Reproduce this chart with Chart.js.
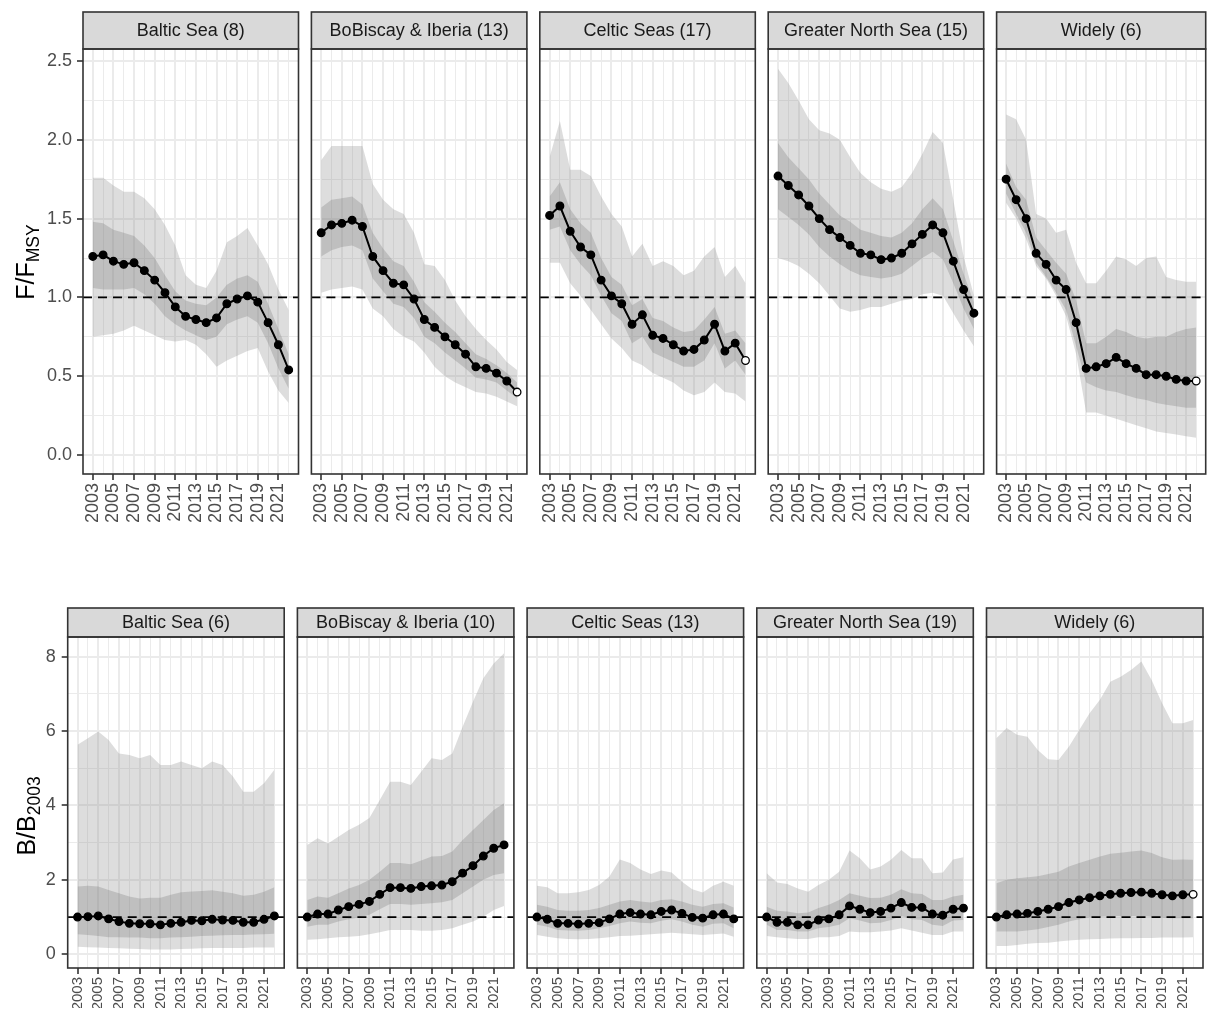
<!DOCTYPE html>
<html>
<head>
<meta charset="utf-8">
<title>F/FMSY and B/B2003 by ecoregion</title>
<script src="https://cdn.jsdelivr.net/npm/chart.js@4.4.1/dist/chart.umd.min.js"></script>
<style>
  html, body { margin: 0; padding: 0; background: #ffffff; }
  #wrap { position: relative; width: 1211px; height: 1010px; overflow: hidden; }
  #wrap canvas { position: absolute; left: 0; top: 0; }
</style>
</head>
<body>
<div id="wrap"></div>
<script>
// ---------------- data ----------------
const YEARS = [2003,2004,2005,2006,2007,2008,2009,2010,2011,2012,2013,2014,2015,2016,2017,2018,2019,2020,2021,2022];
const X_TICK_LABELS = [2003,2005,2007,2009,2011,2013,2015,2017,2019,2021];
const F_TICKS = [0, 0.5, 1, 1.5, 2, 2.5];
const F_MINOR = [0.25, 0.75, 1.25, 1.75, 2.25];
const B_TICKS = [0, 2, 4, 6, 8];
const B_MINOR = [1, 3, 5, 7];
const REF = 1;

const F_TITLES = ['Baltic Sea (8)', 'BoBiscay & Iberia (13)', 'Celtic Seas (17)', 'Greater North Sea (15)', 'Widely (6)'];
const B_TITLES = ['Baltic Sea (6)', 'BoBiscay & Iberia (10)', 'Celtic Seas (13)', 'Greater North Sea (19)', 'Widely (6)'];
// last year drawn as an open circle
const F_OPEN_LAST = [false, true, true, false, true];
const B_OPEN_LAST = [false, false, false, false, true];

// fishing pressure F/FMSY: median, 50% band, 90% band
const F_BAL_MID    = [1.26,1.27,1.23,1.21,1.22,1.17,1.11,1.03,0.94,0.88,0.86,0.84,0.87,0.96,0.99,1.01,0.97,0.84,0.70,0.54];
const F_BAL_IN_LO  = [1.06,1.05,1.05,1.05,1.06,1.02,0.96,0.88,0.83,0.79,0.76,0.73,0.75,0.83,0.86,0.88,0.84,0.71,0.55,0.42];
const F_BAL_IN_HI  = [1.48,1.47,1.43,1.41,1.39,1.33,1.25,1.14,1.04,0.98,0.96,0.95,1.00,1.08,1.12,1.14,1.10,0.96,0.80,0.64];
const F_BAL_OUT_LO = [0.75,0.76,0.77,0.79,0.82,0.79,0.76,0.73,0.72,0.73,0.70,0.64,0.56,0.60,0.63,0.66,0.68,0.53,0.41,0.33];
const F_BAL_OUT_HI = [1.76,1.76,1.71,1.67,1.67,1.63,1.56,1.46,1.33,1.14,1.08,1.06,1.17,1.35,1.39,1.44,1.33,1.21,1.05,0.92];

const F_BOB_MID    = [1.41,1.46,1.47,1.49,1.45,1.26,1.17,1.09,1.08,0.99,0.86,0.81,0.75,0.70,0.64,0.56,0.55,0.52,0.47,0.40];
const F_BOB_IN_LO  = [1.26,1.30,1.32,1.33,1.30,1.12,1.04,0.96,0.94,0.87,0.75,0.71,0.65,0.60,0.55,0.49,0.48,0.46,0.41,0.36];
const F_BOB_IN_HI  = [1.57,1.62,1.63,1.64,1.59,1.41,1.31,1.23,1.20,1.10,0.97,0.91,0.84,0.78,0.71,0.64,0.61,0.57,0.52,0.46];
const F_BOB_OUT_LO = [1.03,1.05,1.06,1.07,1.05,0.93,0.88,0.80,0.75,0.72,0.65,0.56,0.50,0.46,0.43,0.40,0.39,0.37,0.34,0.31];
const F_BOB_OUT_HI = [1.87,1.96,1.96,1.96,1.96,1.72,1.62,1.56,1.53,1.41,1.21,1.20,1.11,0.98,0.88,0.80,0.73,0.67,0.59,0.54];

const F_CEL_MID    = [1.52,1.58,1.42,1.32,1.27,1.11,1.01,0.96,0.83,0.89,0.76,0.74,0.70,0.66,0.67,0.73,0.83,0.66,0.71,0.60];
const F_CEL_IN_LO  = [1.43,1.45,1.30,1.21,1.14,1.01,0.90,0.85,0.71,0.75,0.65,0.62,0.59,0.56,0.56,0.60,0.71,0.55,0.60,0.51];
const F_CEL_IN_HI  = [1.64,1.73,1.56,1.47,1.41,1.25,1.13,1.08,0.95,0.99,0.87,0.85,0.81,0.78,0.79,0.86,0.94,0.77,0.79,0.71];
const F_CEL_OUT_LO = [1.22,1.22,1.09,1.01,0.92,0.83,0.74,0.68,0.60,0.57,0.52,0.49,0.46,0.41,0.38,0.40,0.46,0.40,0.39,0.34];
const F_CEL_OUT_HI = [1.89,2.12,1.81,1.81,1.77,1.64,1.53,1.45,1.26,1.34,1.20,1.23,1.20,1.14,1.17,1.26,1.32,1.13,1.20,1.09];

const F_GNS_MID    = [1.77,1.71,1.65,1.58,1.50,1.43,1.38,1.33,1.28,1.27,1.24,1.25,1.28,1.34,1.40,1.46,1.41,1.23,1.05,0.90];
const F_GNS_IN_LO  = [1.56,1.51,1.46,1.40,1.32,1.26,1.21,1.17,1.14,1.13,1.12,1.13,1.15,1.20,1.25,1.29,1.24,1.09,0.93,0.80];
const F_GNS_IN_HI  = [1.98,1.89,1.82,1.75,1.66,1.59,1.52,1.48,1.43,1.41,1.39,1.38,1.41,1.47,1.56,1.63,1.56,1.36,1.15,0.97];
const F_GNS_OUT_LO = [1.25,1.23,1.20,1.15,1.09,1.01,0.93,0.91,0.92,0.94,0.94,0.96,0.98,0.99,1.02,1.03,1.01,0.90,0.79,0.69];
const F_GNS_OUT_HI = [2.45,2.36,2.25,2.13,2.06,2.04,2.00,1.89,1.79,1.73,1.69,1.67,1.70,1.79,1.91,2.05,1.98,1.62,1.26,1.01];

const F_WID_MID    = [1.75,1.62,1.50,1.28,1.21,1.11,1.05,0.84,0.55,0.56,0.58,0.62,0.58,0.55,0.51,0.51,0.50,0.48,0.47,0.47];
const F_WID_IN_LO  = [1.66,1.53,1.41,1.22,1.13,1.03,0.92,0.69,0.46,0.43,0.41,0.40,0.38,0.36,0.35,0.33,0.32,0.31,0.30,0.30];
const F_WID_IN_HI  = [1.85,1.70,1.62,1.38,1.30,1.22,1.15,0.98,0.71,0.71,0.75,0.80,0.78,0.75,0.74,0.75,0.75,0.78,0.80,0.81];
const F_WID_OUT_LO = [1.60,1.50,1.37,1.20,1.12,1.01,0.88,0.64,0.27,0.27,0.25,0.23,0.21,0.19,0.17,0.15,0.14,0.13,0.12,0.11];
const F_WID_OUT_HI = [2.16,2.13,2.00,1.53,1.50,1.41,1.43,1.22,1.09,1.09,1.17,1.26,1.24,1.20,1.25,1.26,1.13,1.11,1.10,1.10];

// biomass B/B2003: median, 50% band, 90% band
const B_BAL_MID    = [1.00,1.01,1.03,0.95,0.88,0.83,0.82,0.82,0.79,0.83,0.86,0.91,0.90,0.94,0.92,0.91,0.86,0.86,0.94,1.03];
const B_BAL_IN_LO  = [0.54,0.52,0.49,0.46,0.46,0.45,0.45,0.43,0.43,0.45,0.46,0.47,0.49,0.50,0.51,0.52,0.52,0.53,0.54,0.55];
const B_BAL_IN_HI  = [1.82,1.84,1.82,1.73,1.64,1.55,1.50,1.52,1.52,1.60,1.67,1.69,1.70,1.72,1.68,1.64,1.57,1.60,1.68,1.80];
const B_BAL_OUT_LO = [0.20,0.19,0.18,0.17,0.16,0.15,0.14,0.13,0.13,0.13,0.14,0.15,0.16,0.17,0.17,0.17,0.17,0.18,0.18,0.18];
const B_BAL_OUT_HI = [5.63,5.81,5.99,5.76,5.40,5.36,5.27,5.36,5.09,5.09,5.18,5.09,5.00,5.18,5.09,4.78,4.37,4.37,4.60,4.96];

const B_BOB_MID    = [1.00,1.08,1.08,1.19,1.28,1.34,1.42,1.61,1.79,1.79,1.77,1.82,1.84,1.86,1.95,2.18,2.38,2.64,2.85,2.94];
const B_BOB_IN_LO  = [0.74,0.79,0.79,0.88,0.94,0.99,1.06,1.21,1.35,1.35,1.33,1.35,1.37,1.40,1.46,1.64,1.82,2.00,2.13,2.18];
const B_BOB_IN_HI  = [1.46,1.55,1.52,1.64,1.77,1.86,2.00,2.22,2.45,2.45,2.42,2.52,2.63,2.64,2.76,3.07,3.34,3.61,3.88,4.06];
const B_BOB_OUT_LO = [0.39,0.40,0.43,0.46,0.47,0.49,0.54,0.59,0.65,0.65,0.65,0.63,0.63,0.65,0.70,0.79,0.88,1.01,1.19,1.30];
const B_BOB_OUT_HI = [2.94,3.12,2.98,3.16,3.34,3.48,3.66,4.15,4.64,4.64,4.55,4.91,5.27,5.22,5.40,6.12,6.79,7.42,7.82,8.09];

const B_CEL_MID    = [1.00,0.94,0.83,0.83,0.81,0.83,0.85,0.95,1.08,1.12,1.08,1.06,1.15,1.19,1.10,0.99,0.97,1.06,1.08,0.95];
const B_CEL_IN_LO  = [0.79,0.74,0.65,0.64,0.63,0.65,0.70,0.76,0.83,0.88,0.85,0.83,0.90,0.94,0.88,0.79,0.74,0.82,0.83,0.70];
const B_CEL_IN_HI  = [1.33,1.28,1.19,1.17,1.17,1.19,1.24,1.33,1.42,1.46,1.42,1.39,1.46,1.48,1.42,1.33,1.28,1.35,1.37,1.26];
const B_CEL_OUT_LO = [0.52,0.47,0.43,0.41,0.40,0.41,0.43,0.46,0.49,0.50,0.52,0.54,0.56,0.58,0.56,0.54,0.52,0.54,0.56,0.47];
const B_CEL_OUT_HI = [1.84,1.80,1.64,1.64,1.67,1.73,1.86,2.09,2.55,2.45,2.28,2.16,2.25,2.20,1.95,1.75,1.66,1.84,1.95,1.84];

const B_GNS_MID    = [1.00,0.86,0.86,0.79,0.79,0.92,0.95,1.06,1.30,1.21,1.12,1.15,1.24,1.39,1.26,1.26,1.08,1.05,1.21,1.24];
const B_GNS_IN_LO  = [0.79,0.65,0.65,0.61,0.61,0.70,0.73,0.79,0.97,0.91,0.83,0.85,0.92,1.03,0.94,0.92,0.79,0.76,0.91,0.92];
const B_GNS_IN_HI  = [1.28,1.17,1.15,1.10,1.12,1.24,1.33,1.46,1.64,1.57,1.51,1.52,1.60,1.75,1.64,1.62,1.46,1.46,1.55,1.60];
const B_GNS_OUT_LO = [0.49,0.46,0.43,0.41,0.41,0.46,0.46,0.49,0.61,0.59,0.59,0.61,0.64,0.70,0.64,0.58,0.52,0.52,0.61,0.61];
const B_GNS_OUT_HI = [2.18,1.93,1.89,1.77,1.68,1.86,2.00,2.22,2.79,2.58,2.28,2.36,2.54,2.80,2.58,2.58,2.18,2.20,2.55,2.61];

const B_WID_MID    = [1.00,1.06,1.08,1.10,1.15,1.21,1.28,1.39,1.46,1.52,1.57,1.61,1.64,1.66,1.67,1.64,1.60,1.57,1.60,1.61];
const B_WID_IN_LO  = [0.61,0.61,0.61,0.64,0.67,0.73,0.79,0.88,0.94,0.99,1.01,1.03,1.03,1.03,1.03,1.01,0.98,0.97,0.97,0.97];
const B_WID_IN_HI  = [1.91,2.00,2.04,2.07,2.10,2.16,2.22,2.36,2.45,2.54,2.63,2.70,2.73,2.76,2.79,2.72,2.61,2.54,2.55,2.54];
const B_WID_OUT_LO = [0.22,0.22,0.25,0.28,0.30,0.31,0.34,0.37,0.39,0.40,0.41,0.42,0.43,0.43,0.44,0.44,0.45,0.45,0.45,0.46];
const B_WID_OUT_HI = [5.81,6.08,5.90,5.85,5.49,5.24,5.22,5.58,6.03,6.48,6.84,7.33,7.46,7.64,7.87,7.37,6.75,6.21,6.21,6.30];

// ---------------- layout & style ----------------
const PAGE_W = 1211, PAGE_H = 1010;
const FONT = '"Liberation Sans", Arial, Helvetica, sans-serif';
const X_MIN = 2002.05, X_MAX = 2022.95;
const OUTER_FILL = 'rgba(150,150,150,0.32)';
const INNER_FILL = 'rgba(95,95,95,0.23)';
const GRID = '#ebebeb';
const DARK = '#333333';

Chart.defaults.font.family = FONT;

const ROWS = [
  {
    titles: F_TITLES, openLast: F_OPEN_LAST,
    series: [
      [F_BAL_MID, F_BAL_IN_LO, F_BAL_IN_HI, F_BAL_OUT_LO, F_BAL_OUT_HI],
      [F_BOB_MID, F_BOB_IN_LO, F_BOB_IN_HI, F_BOB_OUT_LO, F_BOB_OUT_HI],
      [F_CEL_MID, F_CEL_IN_LO, F_CEL_IN_HI, F_CEL_OUT_LO, F_CEL_OUT_HI],
      [F_GNS_MID, F_GNS_IN_LO, F_GNS_IN_HI, F_GNS_OUT_LO, F_GNS_OUT_HI],
      [F_WID_MID, F_WID_IN_LO, F_WID_IN_HI, F_WID_OUT_LO, F_WID_OUT_HI]
    ],
    majors: F_TICKS, minors: F_MINOR, fmt: v => v.toFixed(1),
    yMin: -0.12, yMax: 2.576,
    lefts: [83, 311.4, 539.8, 768.2, 996.6], panelW: 215.5,
    stripTop: 12, plotTop: 49, plotBottom: 474, xAxisH: 50, yAxisW: 60, tickPad: 5,
    xFont: 18,
    yTitle: { main: 'F/F', sub: 'MSY', x: 25, y: 262 }
  },
  {
    titles: B_TITLES, openLast: B_OPEN_LAST,
    series: [
      [B_BAL_MID, B_BAL_IN_LO, B_BAL_IN_HI, B_BAL_OUT_LO, B_BAL_OUT_HI],
      [B_BOB_MID, B_BOB_IN_LO, B_BOB_IN_HI, B_BOB_OUT_LO, B_BOB_OUT_HI],
      [B_CEL_MID, B_CEL_IN_LO, B_CEL_IN_HI, B_CEL_OUT_LO, B_CEL_OUT_HI],
      [B_GNS_MID, B_GNS_IN_LO, B_GNS_IN_HI, B_GNS_OUT_LO, B_GNS_OUT_HI],
      [B_WID_MID, B_WID_IN_LO, B_WID_IN_HI, B_WID_OUT_LO, B_WID_OUT_HI]
    ],
    majors: B_TICKS, minors: B_MINOR, fmt: v => String(v),
    yMin: -0.37, yMax: 8.53,
    lefts: [67.7, 297.4, 527.1, 756.8, 986.5], panelW: 216.5,
    stripTop: 608, plotTop: 637, plotBottom: 968, xAxisH: 40, yAxisW: 50, tickPad: 6,
    xFont: 15,
    yTitle: { main: 'B/B', sub: '2003', x: 26, y: 816 }
  }
];

// strip header, panel border and (first column) the y-axis title
const facetDecor = {
  id: 'facetDecor',
  afterDraw(chart, args, opts) {
    const { ctx, chartArea: a } = chart;
    const w = a.right - a.left;
    const stripH = a.top - opts.stripTop;
    ctx.save();
    ctx.fillStyle = '#d9d9d9';
    ctx.fillRect(a.left, opts.stripTop, w, stripH);
    ctx.strokeStyle = DARK;
    ctx.lineWidth = 1.6;
    ctx.strokeRect(a.left, opts.stripTop, w, stripH);
    ctx.strokeRect(a.left, a.top, w, a.bottom - a.top);
    ctx.fillStyle = '#1a1a1a';
    ctx.font = '18px ' + FONT;
    ctx.textAlign = 'center';
    ctx.textBaseline = 'middle';
    ctx.fillText(opts.label, a.left + w / 2, opts.stripTop + stripH / 2 + 1);

    if (opts.yTitle) {
      const t = opts.yTitle;
      const mainFont = '25px ' + FONT, subFont = '17.5px ' + FONT;
      ctx.font = mainFont;
      const wMain = ctx.measureText(t.main).width;
      ctx.font = subFont;
      const wSub = ctx.measureText(t.sub).width;
      const total = wMain + wSub;
      ctx.translate(t.x, t.y);
      ctx.rotate(-Math.PI / 2);
      ctx.fillStyle = '#000000';
      ctx.textAlign = 'left';
      ctx.textBaseline = 'alphabetic';
      ctx.font = mainFont;
      ctx.fillText(t.main, -total / 2, 9);
      ctx.font = subFont;
      ctx.fillText(t.sub, -total / 2 + wMain, 14);
    }
    ctx.restore();
  }
};

const wrap = document.getElementById('wrap');
const pts = arr => YEARS.map((yr, i) => ({ x: yr, y: arr[i] }));

ROWS.forEach(row => {
  row.series.forEach((s, col) => {
    const [mid, inLo, inHi, outLo, outHi] = s;
    const first = col === 0;
    const left = row.lefts[col];
    const right = left + row.panelW;
    const yW = first ? row.yAxisW : 0;

    const canvas = document.createElement('canvas');
    canvas.width = PAGE_W;
    canvas.height = PAGE_H;
    canvas.style.width = PAGE_W + 'px';
    canvas.style.height = PAGE_H + 'px';
    wrap.appendChild(canvas);

    const lastOpen = row.openLast[col];
    const pointFill = mid.map((v, i) => (lastOpen && i === mid.length - 1) ? '#ffffff' : '#000000');

    new Chart(canvas, {
      type: 'line',
      data: {
        datasets: [
          { data: pts(outLo), borderWidth: 0, pointRadius: 0, fill: false, order: 5 },
          { data: pts(outHi), borderWidth: 0, pointRadius: 0, fill: '-1', backgroundColor: OUTER_FILL, order: 4 },
          { data: pts(inLo), borderWidth: 0, pointRadius: 0, fill: false, order: 3 },
          { data: pts(inHi), borderWidth: 0, pointRadius: 0, fill: '-1', backgroundColor: INNER_FILL, order: 2 },
          { data: [{ x: X_MIN, y: REF }, { x: X_MAX, y: REF }], borderColor: '#000000', borderWidth: 1.8,
            borderDash: [9, 6], pointRadius: 0, fill: false, order: 1 },
          { data: pts(mid), borderColor: '#000000', borderWidth: 2, tension: 0, fill: false,
            pointRadius: 3.8, pointBackgroundColor: pointFill, pointBorderColor: '#000000',
            pointBorderWidth: 1.3, order: 0 }
        ]
      },
      options: {
        responsive: false,
        animation: false,
        devicePixelRatio: 1,
        events: [],
        layout: {
          padding: {
            left: left - yW,
            top: row.plotTop,
            right: PAGE_W - right,
            bottom: PAGE_H - row.plotBottom - row.xAxisH
          }
        },
        plugins: {
          legend: { display: false },
          tooltip: { enabled: false },
          filler: { propagate: false },
          facetDecor: { label: row.titles[col], stripTop: row.stripTop, yTitle: first ? row.yTitle : null }
        },
        scales: {
          x: {
            type: 'linear',
            min: X_MIN,
            max: X_MAX,
            afterBuildTicks: sc => { sc.ticks = YEARS.map(v => ({ value: v })); },
            afterFit: sc => {
              sc.height = row.xAxisH;
              sc.paddingLeft = 0;
              sc.paddingRight = 0;
            },
            border: { display: false },
            grid: {
              color: GRID,
              lineWidth: c => X_TICK_LABELS.includes(c.tick.value) ? 2 : 1,
              tickLength: 6,
              tickWidth: 1.6,
              tickColor: c => X_TICK_LABELS.includes(c.tick.value) ? DARK : 'rgba(0,0,0,0)'
            },
            ticks: {
              autoSkip: false,
              minRotation: 90,
              maxRotation: 90,
              padding: 3,
              color: '#4d4d4d',
              font: { size: row.xFont },
              callback: v => X_TICK_LABELS.includes(v) ? String(v) : ''
            }
          },
          y: {
            type: 'linear',
            min: row.yMin,
            max: row.yMax,
            afterBuildTicks: sc => {
              sc.ticks = row.majors.concat(row.minors).sort((p, q) => p - q).map(v => ({ value: v }));
            },
            afterFit: sc => {
              sc.width = yW;
              sc.paddingTop = 0;
              sc.paddingBottom = 0;
            },
            border: { display: false },
            grid: {
              color: GRID,
              lineWidth: c => row.majors.includes(c.tick.value) ? 2 : 1,
              drawTicks: first,
              tickLength: 6,
              tickWidth: 1.6,
              tickColor: c => row.majors.includes(c.tick.value) ? DARK : 'rgba(0,0,0,0)'
            },
            ticks: {
              display: first,
              padding: row.tickPad,
              color: '#4d4d4d',
              font: { size: 18 },
              callback: v => row.majors.includes(v) ? row.fmt(v) : ''
            }
          }
        }
      },
      plugins: [facetDecor]
    });
  });
});
</script>
</body>
</html>
